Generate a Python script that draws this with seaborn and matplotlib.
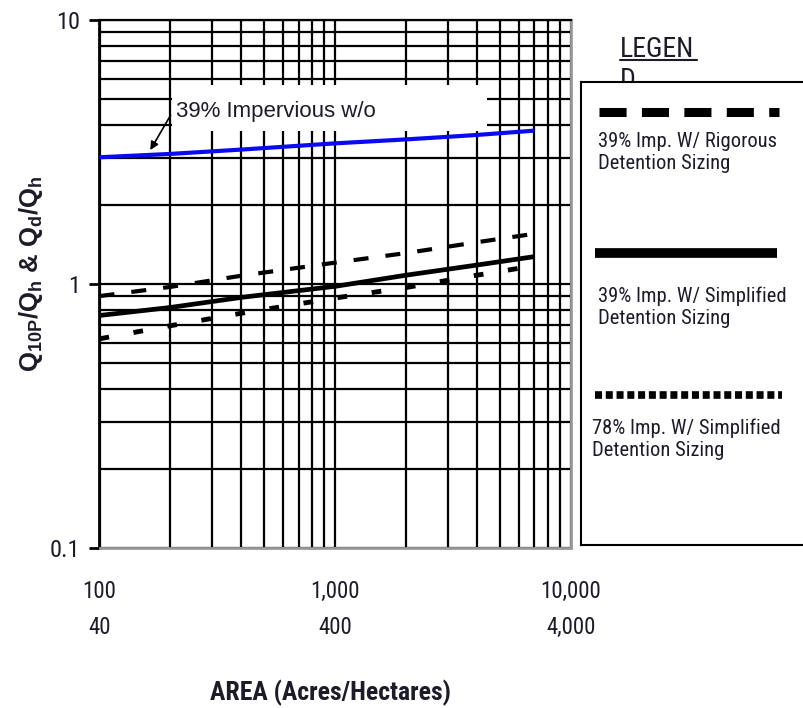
"""
Peak flow ratio vs. drainage area, log-log chart with hand-built legend panel.
"""

import matplotlib
matplotlib.use("Agg")
import matplotlib.pyplot as plt
import seaborn as sns
from matplotlib import font_manager
from matplotlib.font_manager import FontProperties
from matplotlib.lines import Line2D
from matplotlib.patches import Rectangle
from matplotlib.ticker import LogLocator, NullFormatter

# ---------------------------------------------------------------------------
# Data
# ---------------------------------------------------------------------------
AREA_NO_DET = [100, 200, 400, 1000, 2000, 3000, 4000, 7000]
Q_NO_DET = [3.02, 3.11, 3.23, 3.41, 3.53, 3.61, 3.67, 3.81]

AREA_RIGOROUS = [100, 200, 400, 1000, 2000, 4000, 7000]
Q_RIGOROUS = [0.90, 0.975, 1.075, 1.205, 1.31, 1.44, 1.55]

AREA_SIMPLIFIED = [100, 200, 400, 1000, 2000, 4000, 7000]
Q_SIMPLIFIED = [0.76, 0.815, 0.89, 0.98, 1.08, 1.18, 1.27]

AREA_78 = [100, 200, 400, 1000, 2000, 4000, 6500]
Q_78 = [0.62, 0.695, 0.775, 0.885, 0.97, 1.08, 1.16]

X_TICKS = [100, 1000, 10000]
X_TICK_LABELS = ["100\n40", "1,000\n400", "10,000\n4,000"]
Y_TICKS = [0.1, 1, 10]
Y_TICK_LABELS = ["0.1", "1", "10"]

LEGEND_LABELS = [
    "39% Imp. W/ Rigorous\nDetention Sizing",
    "39% Imp. W/ Simplified\nDetention Sizing",
    "78% Imp. W/ Simplified\nDetention Sizing",
]


# ---------------------------------------------------------------------------
# Fonts: the scan uses an Arial-Narrow-like face; look for a condensed one
# ---------------------------------------------------------------------------
def _weight(w):
    if isinstance(w, str):
        return font_manager.weight_dict.get(w, 400)
    return w


def _find_narrow(bold):
    prefs = ["liberation sans narrow", "arial narrow", "roboto condensed",
             "noto sans", "open sans", "dejavu sans", "inter", "lato"]
    best, best_score = None, None
    for f in font_manager.fontManager.ttflist:
        tag = (f.name + " " + f.fname).lower()
        narrow = ("narrow" in tag or "condensed" in tag
                  or str(f.stretch) in ("condensed", "semi-condensed"))
        if not narrow or f.style != "normal" or "extra" in tag or "ultra" in tag \
                or "semicondensed" in tag.replace("-", ""):
            continue
        rank = next((i for i, p in enumerate(prefs) if p in tag), len(prefs))
        score = rank * 1000 + abs(_weight(f.weight) - (700 if bold else 400))
        if best_score is None or score < best_score:
            best, best_score = f, score
    return best


_reg, _bold = _find_narrow(False), _find_narrow(True)
if _reg is not None:
    FP_REG = FontProperties(fname=_reg.fname)
    FP_BOLD = FontProperties(fname=(_bold or _reg).fname)
    SCALE = 1.0
else:
    FP_REG = FontProperties(family="Liberation Sans")
    FP_BOLD = FontProperties(family="Liberation Sans", weight="bold")
    SCALE = 0.84


def fp(base, size):
    p = base.copy()
    p.set_size(size * SCALE)
    return p


sns.set_style("ticks")
plt.rcParams["font.family"] = ["Liberation Sans", "DejaVu Sans"]
plt.rcParams["mathtext.fontset"] = "custom"
plt.rcParams["mathtext.rm"] = "Liberation Sans:bold"
plt.rcParams["mathtext.default"] = "rm"
TXT = "#1c1c28"

W, H = 804, 708
fig = plt.figure(figsize=(W / 100, H / 100), dpi=100)
ax = fig.add_axes([99.5 / W, 1 - 548 / H, (571 - 99.5) / W, (548 - 20) / H])

# ---------------------------------------------------------------------------
# Series
# ---------------------------------------------------------------------------
sns.lineplot(x=AREA_NO_DET, y=Q_NO_DET, ax=ax, color="#0a0af0", lw=3.0, zorder=3,
             solid_capstyle="butt")
sns.lineplot(x=AREA_RIGOROUS, y=Q_RIGOROUS, ax=ax, color="black", lw=3.0,
             linestyle=(0, (3.6, 4.1)), zorder=3)
sns.lineplot(x=AREA_SIMPLIFIED, y=Q_SIMPLIFIED, ax=ax, color="black", lw=3.4, zorder=3,
             solid_capstyle="butt")
sns.lineplot(x=AREA_78, y=Q_78, ax=ax, color="black", lw=3.5,
             linestyle=(0, (2.0, 5.1)), zorder=3)

ax.set_xscale("log")
ax.set_yscale("log")
ax.set_xlim(100, 10000)
ax.set_ylim(0.1, 10)

ax.set_xticks(X_TICKS)
ax.set_xticklabels(X_TICK_LABELS)
ax.set_yticks(Y_TICKS)
ax.set_yticklabels(Y_TICK_LABELS)
for axis in (ax.xaxis, ax.yaxis):
    axis.set_minor_locator(LogLocator(base=10, subs=range(2, 10)))
    axis.set_minor_formatter(NullFormatter())

ax.grid(which="both", color="black", lw=1.6)
ax.set_axisbelow(True)
ax.tick_params(axis="x", which="both", length=0, pad=23, labelcolor=TXT)
ax.tick_params(axis="y", which="major", length=7.2, width=2, pad=7,
               labelcolor=TXT, color="black")
ax.tick_params(axis="y", which="minor", length=0)
for t in ax.get_xticklabels():
    t.set_fontproperties(fp(FP_REG, 16.5))
    t.set_linespacing(1.7)
for t in ax.get_yticklabels():
    t.set_fontproperties(fp(FP_REG, 17.5))

ax.spines["left"].set(color="black", lw=2)
ax.spines["top"].set(color="black", lw=1.6)
ax.spines["right"].set(color="#9a9a9a", lw=2)
ax.spines["bottom"].set(color="#9a9a9a", lw=2)

ax.set_xlabel("AREA (Acres/Hectares)", fontproperties=fp(FP_BOLD, 18.5), color=TXT)
ax.xaxis.set_label_coords(0.49, -0.25)
ax.set_ylabel(r"$Q_{10P}/Q_h$ & $Q_d/Q_h$", fontsize=18.5, fontweight="bold", color=TXT)
ax.yaxis.set_label_coords(-0.115, 0.52)

# white label box + arrow for the no-detention curve
ax.add_patch(Rectangle((0.154, 0.79), 0.668, 0.087, transform=ax.transAxes,
                       facecolor="white", edgecolor="none", zorder=1))
ax.text(211, 4.5, "39% Impervious w/o", fontsize=16, color=TXT,
        ha="left", va="center", zorder=4)
ax.annotate("", xy=(162, 3.15), xytext=(203, 4.45),
            arrowprops=dict(arrowstyle="-|>", color="black", lw=1.2, mutation_scale=12),
            zorder=4)

# ---------------------------------------------------------------------------
# Legend panel (drawn by hand: sample line above each label)
# ---------------------------------------------------------------------------
fig.text(620 / W, 1 - 36 / H, "LEGEN\nD", fontproperties=fp(FP_REG, 20), color=TXT,
         ha="left", va="top", linespacing=1.18, zorder=-1)
fig.add_artist(Line2D([620 / W, 697 / W], [1 - 60 / H] * 2, color=TXT, lw=1.5, zorder=-1))

lax = fig.add_axes([581 / W, 1 - 545 / H, 0.3, (545 - 82) / H])
lax.set_zorder(5)
lax.set_xlim(581, 822)
lax.set_ylim(545, 82)
lax.set_xticks([])
lax.set_yticks([])
for s in lax.spines.values():
    s.set(color="black", lw=1.5)

lax.add_line(Line2D([599, 779], [112, 112], color="black", lw=6.5,
                    linestyle=(0, (3.0, 1.7))))
lax.add_line(Line2D([595, 777], [253, 253], color="black", lw=7.0, solid_capstyle="butt"))
lax.add_line(Line2D([595, 782], [395, 395], color="black", lw=5.5,
                    linestyle=(0, (0.92, 0.49))))
for (x, y), label in zip([(598, 153), (598, 307), (592, 439)], LEGEND_LABELS):
    lax.text(x, y, label, fontproperties=fp(FP_REG, 14.8), color=TXT, ha="left",
             va="center", linespacing=1.2)

fig.savefig("out.png", dpi=100)
